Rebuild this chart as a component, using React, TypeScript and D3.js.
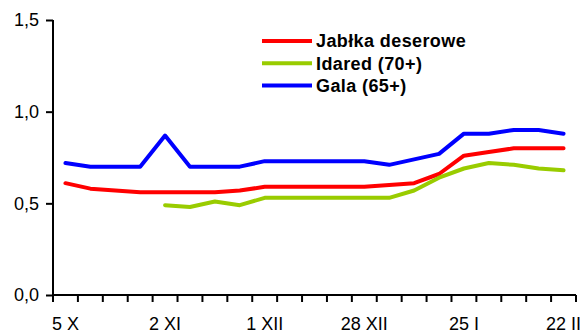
import React, { useRef, useEffect } from 'react';
import * as d3 from 'd3';

// weekly notowania, od 5 X do 22 II
const weeks = [
  '5 X', '12 X', '19 X', '26 X', '2 XI', '9 XI', '16 XI', '23 XI', '1 XII', '7 XII', '14 XII',
  '21 XII', '28 XII', '4 I', '11 I', '18 I', '25 I', '1 II', '8 II', '15 II', '22 II',
];
const shownLabels = ['5 X', '2 XI', '1 XII', '28 XII', '25 I', '22 II'];

const deserowe = [0.61, 0.58, 0.57, 0.56, 0.56, 0.56, 0.56, 0.57, 0.59, 0.59, 0.59,
  0.59, 0.59, 0.60, 0.61, 0.66, 0.76, 0.78, 0.80, 0.80, 0.80];
const idared = [null, null, null, null, 0.49, 0.48, 0.51, 0.49, 0.53, 0.53, 0.53,
  0.53, 0.53, 0.53, 0.57, 0.64, 0.69, 0.72, 0.71, 0.69, 0.68];
const gala = [0.72, 0.70, 0.70, 0.70, 0.87, 0.70, 0.70, 0.70, 0.73, 0.73, 0.73,
  0.73, 0.73, 0.71, 0.74, 0.77, 0.88, 0.88, 0.90, 0.90, 0.88];

const seriesNames = ['Jabłka deserowe', 'Idared (70+)', 'Gala (65+)'];
const seriesColors = ['#ff0000', '#99cc00', '#0000ff'];
const yTicks = [0, 0.5, 1.0, 1.5];

const App: React.FC = () => {
  const ref = useRef<SVGSVGElement | null>(null);

  useEffect(() => {
    if (!ref.current) return;
    const svg = d3.select(ref.current);
    const width = 584;
    const height = 331;
    const margin = { top: 20, right: 8, bottom: 36, left: 53 };
    const font = "'Liberation Sans', Arial, sans-serif";

    svg.selectAll('*').remove();
    svg.attr('width', width).attr('height', height);

    const x = d3.scaleBand<string>().domain(weeks).range([margin.left, width - margin.right]).padding(0);
    const y = d3.scaleLinear().domain([0, 1.5]).range([height - margin.bottom, margin.top]);
    const cx = (i: number) => (x(weeks[i]) as number) + x.bandwidth() / 2;

    // y axis
    const yAxis = svg.append('g')
      .attr('transform', `translate(${margin.left},0)`)
      .call(d3.axisLeft(y).tickValues(yTicks).tickSize(7).tickPadding(7)
        .tickFormat(d => (d as number).toFixed(1).replace('.', ',')));
    yAxis.select('.domain').attr('stroke', '#000').attr('stroke-width', 2).attr('d', `M0,${y(1.5)}V${y(0)}`);
    yAxis.selectAll('.tick line').attr('stroke-width', 2);
    yAxis.selectAll('text').attr('font-family', font).attr('font-size', 18).attr('fill', '#000');

    // x axis: ticks between categories
    const y0 = y(0);
    const gx = svg.append('g');
    gx.append('line')
      .attr('x1', margin.left).attr('x2', width - margin.right)
      .attr('y1', y0).attr('y2', y0)
      .attr('stroke', '#000').attr('stroke-width', 2);
    const edges = weeks.map(w => x(w) as number).concat([width - margin.right]);
    gx.selectAll('line.tk').data(edges).enter().append('line')
      .attr('class', 'tk')
      .attr('x1', d => d).attr('x2', d => d)
      .attr('y1', y0).attr('y2', y0 + 7)
      .attr('stroke', '#000').attr('stroke-width', 2);
    gx.selectAll('text').data(shownLabels).enter().append('text')
      .attr('x', d => (x(d) as number) + x.bandwidth() / 2)
      .attr('y', y0 + 34.5)
      .attr('text-anchor', 'middle')
      .attr('font-family', font).attr('font-size', 18)
      .text(d => d);

    // lines
    const allSeries = [deserowe, idared, gala];
    const line = d3.line<number | null>()
      .defined(d => d !== null)
      .x((_, i) => cx(i))
      .y(d => y(d as number));
    allSeries.forEach((s, k) => {
      svg.append('path')
        .datum(s)
        .attr('fill', 'none')
        .attr('stroke', seriesColors[k])
        .attr('stroke-width', 4)
        .attr('stroke-linejoin', 'round')
        .attr('stroke-linecap', 'round')
        .attr('d', line);
    });

    // legend
    const legend = svg.append('g').attr('transform', 'translate(262,41)');
    seriesNames.forEach((name, k) => {
      const row = legend.append('g').attr('transform', `translate(0,${k * 22.3})`);
      row.append('line')
        .attr('x1', 0).attr('x2', 50)
        .attr('stroke', seriesColors[k]).attr('stroke-width', 4);
      row.append('text')
        .attr('x', 54).attr('y', 0).attr('dy', '0.36em')
        .attr('font-family', font).attr('font-size', 18).attr('font-weight', 'bold')
        .attr('letter-spacing', 0.4)
        .text(name);
    });
  }, []);

  return (
    <svg ref={ref} style={{ position: 'absolute', left: 0, top: 0, background: '#fff' }}></svg>
  );
};

export default App;
